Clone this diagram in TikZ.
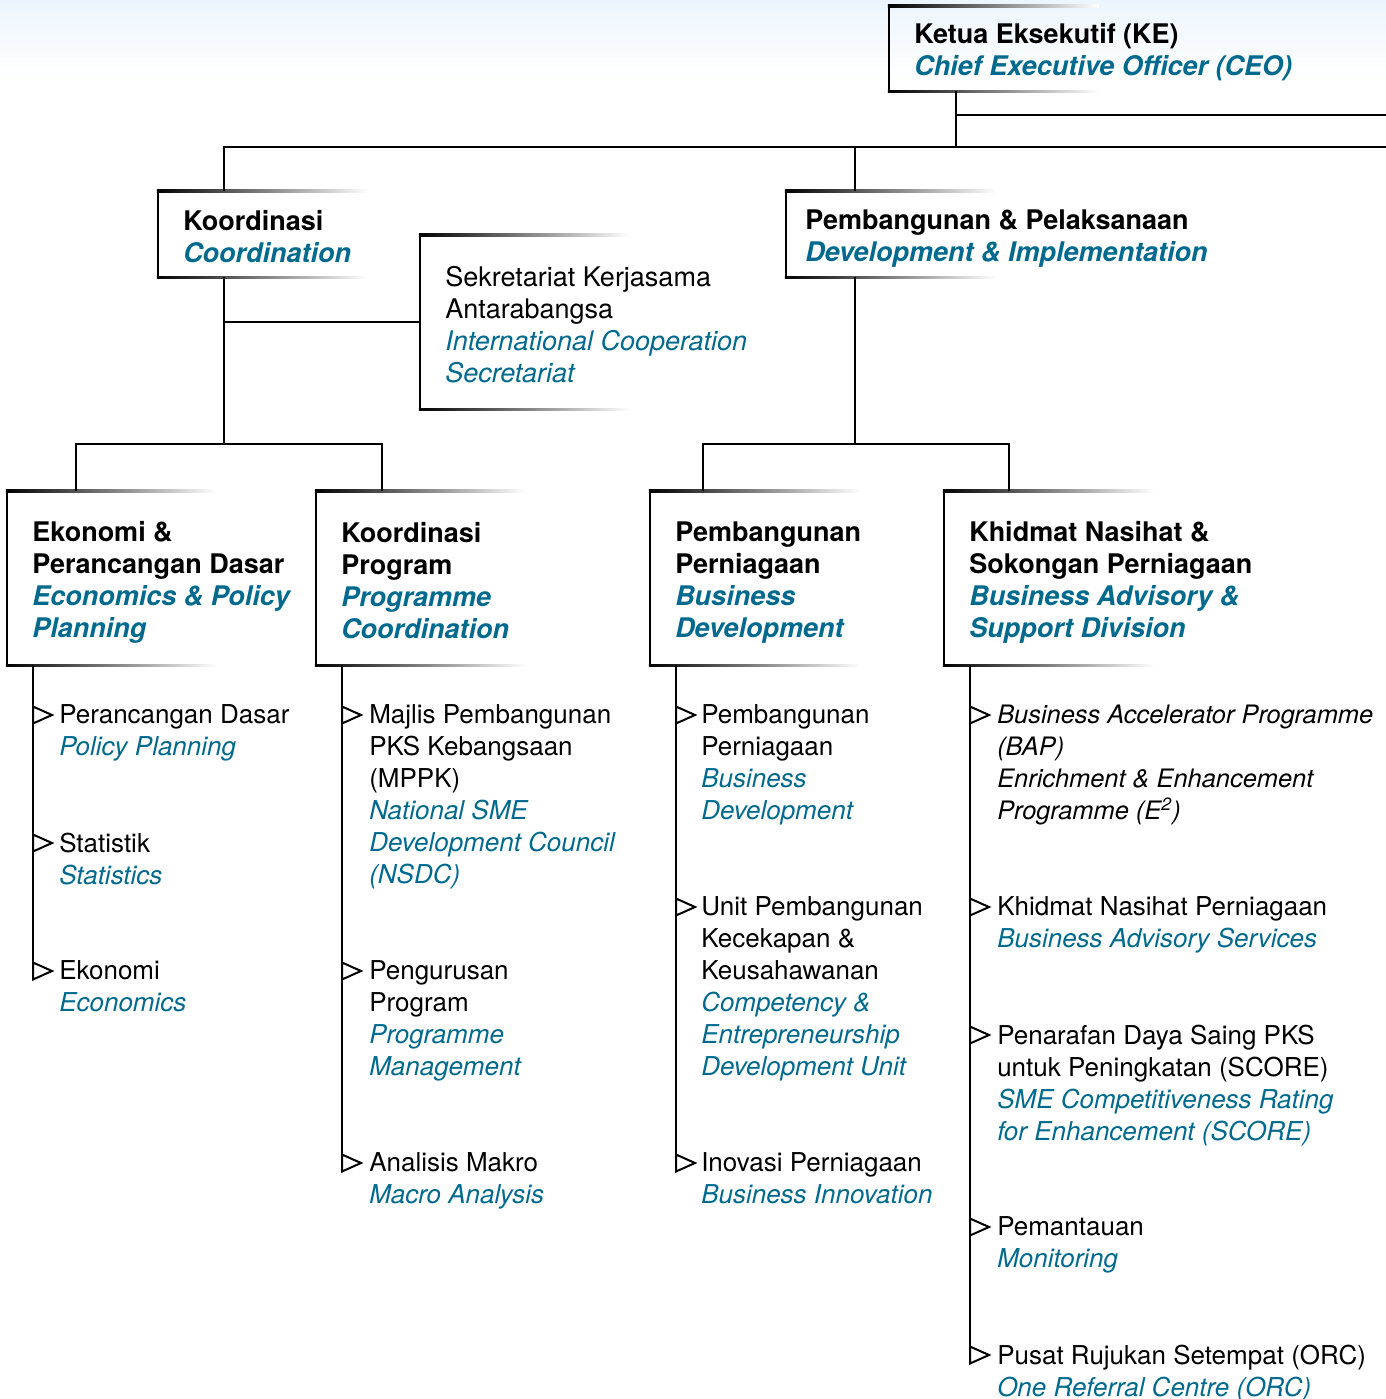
\documentclass[tikz,border=0pt]{standalone}
\usepackage{fontspec}
\setmainfont{TeX Gyre Heros}
\usetikzlibrary{calc}
\usetikzlibrary{positioning}

\definecolor{engblue}{RGB}{0,106,142}
\definecolor{skyblue}{RGB}{236,245,253}

\newcommand{\eng}[1]{\textcolor{engblue}{\itshape #1}}
\newcommand{\heng}[1]{\textcolor{engblue}{\bfseries\itshape #1}}
\newcommand{\linestrut}{\rule[-1.6pt]{0pt}{11pt}}
\newcommand{\topstrut}{\rule{0pt}{14pt}}
\newcommand{\unitedges}[1]{%
  \draw (#1.north west) -- (#1.south west);
  \pic at (#1.north west) {fadeline};
  \pic at (#1.south west) {fadeline};}

\begin{document}
\begin{tikzpicture}[x=0.5pt, y=-0.5pt, line width=1.25pt,
    unit/.style={anchor=west, inner xsep=12pt, inner ysep=0pt, align=left,
      font=\fontsize{13.5}{16}\selectfont, execute at end node=\linestrut},
    headunit/.style={unit, minimum height=42pt},
    bigunit/.style={unit, minimum height=86pt},
    item/.style={anchor=north west, inner sep=0pt, align=left,
      font=\fontsize{13}{16}\selectfont, execute at begin node=\linestrut},
    fadeline/.pic={
      \shade[left color=black, middle color=black, right color=white]
        (-1.25,-1.25) rectangle (210,1.25);
    },
    itemarrow/.pic={
      \draw[line width=1pt, line join=miter, fill=white] (0,-8.5) -- (19,0) -- (0,8.5) -- cycle;
    }
  ]
  \useasboundingbox (0,0) rectangle (1386,1399);
  \shade[top color=skyblue, bottom color=white] (0,0) rectangle (1386,80);

  % top level
  \node[unit, minimum height=41.5pt] (ceo) at (889,48.5)
    {\topstrut\textbf{Ketua Eksekutif (KE)}\\\heng{Chief Executive Officer (CEO)}};
  \node[headunit] (coord) at (158,234)
    {\topstrut\textbf{Koordinasi}\\\heng{Coordination}};
  \node[headunit, inner xsep=9pt] (devimp) at (786,234)
    {\topstrut\textbf{Pembangunan \& Pelaksanaan}\\\heng{Development \& Implementation}};
  \node[bigunit] (icsec) at (420,322)
    {\topstrut Sekretariat Kerjasama\\Antarabangsa\\\eng{International Cooperation}\\\eng{Secretariat}};

  % divisions
  \node[bigunit] (econ) at (7,578)
    {\topstrut\textbf{Ekonomi \&}\\\textbf{Perancangan Dasar}\\\heng{Economics \& Policy}\\\heng{Planning}};
  \node[bigunit] (progco) at (316,578)
    {\topstrut\textbf{Koordinasi}\\\textbf{Program}\\\heng{Programme}\\\heng{Coordination}};
  \node[bigunit] (busdev) at (650,578)
    {\topstrut\textbf{Pembangunan}\\\textbf{Perniagaan}\\\heng{Business}\\\heng{Development}};
  \node[bigunit] (advisory) at (944,578)
    {\topstrut\textbf{Khidmat Nasihat \&}\\\textbf{Sokongan Perniagaan}\\\heng{Business Advisory \&}\\\heng{Support Division}};

  \unitedges{ceo}
  \unitedges{coord}
  \unitedges{devimp}
  \unitedges{icsec}
  \unitedges{econ}
  \unitedges{progco}
  \unitedges{busdev}
  \unitedges{advisory}

  % tree connectors
  \coordinate (ceo_out) at ($(ceo.south west)+(67,0)$);
  \coordinate (edge1) at (1386,115);
  \coordinate (edge2) at (1386,147);
  \coordinate (coord_in) at ($(coord.north west)+(66,0)$);
  \coordinate (coord_out) at ($(coord.south west)+(66,0)$);
  \coordinate (devimp_in) at ($(devimp.north west)+(69,0)$);
  \coordinate (devimp_out) at ($(devimp.south west)+(69,0)$);
  \coordinate (split1) at (224,444);
  \coordinate (split2) at (855,444);
  \coordinate (econ_in) at ($(econ.north west)+(69,0)$);
  \coordinate (progco_in) at ($(progco.north west)+(66,0)$);
  \coordinate (busdev_in) at ($(busdev.north west)+(53,0)$);
  \coordinate (advisory_in) at ($(advisory.north west)+(65,0)$);

  \draw (ceo_out) -- (ceo_out |- edge2);
  \draw[line width=1pt] (ceo_out |- edge1) -- (edge1);
  \draw (coord_in) |- (edge2);
  \draw (devimp_in) -- (devimp_in |- edge2);
  \draw (coord_out) -- (split1);
  \draw (coord_out |- icsec.west) -- (icsec.west);
  \draw (econ_in) |- (split1) -| (progco_in);
  \draw (devimp_out) -- (split2);
  \draw (busdev_in) |- (split2) -| (advisory_in);

  % economics & policy planning
  \coordinate (e1) at (33,715);
  \coordinate (e2) at (33,843);
  \coordinate (e3) at (33,971);
  \draw (econ.south west -| e1) -- ($(e3)+(0,9)$);
  \pic at (e1) {itemarrow};
  \pic at (e2) {itemarrow};
  \pic at (e3) {itemarrow};
  \node[item] (e1t) at ($(e1)+(25,-11.6)$) {Perancangan Dasar\\\eng{Policy Planning}};
  \node[item] (e2t) at ($(e2)+(25,-11.6)$) {Statistik\\\eng{Statistics}};
  \node[item] (e3t) at ($(e3)+(25,-11.6)$) {Ekonomi\\\eng{Economics}};

  % programme coordination
  \coordinate (p1) at (342,715);
  \coordinate (p2) at (342,971);
  \coordinate (p3) at (342,1163);
  \draw (progco.south west -| p1) -- ($(p3)+(0,9)$);
  \pic at (p1) {itemarrow};
  \pic at (p2) {itemarrow};
  \pic at (p3) {itemarrow};
  \node[item] (p1t) at ($(p1)+(26,-11.6)$)
    {Majlis Pembangunan\\PKS Kebangsaan\\(MPPK)\\\eng{National SME}\\\eng{Development Council}\\\eng{(NSDC)}};
  \node[item] (p2t) at ($(p2)+(26,-11.6)$)
    {Pengurusan\\Program\\\eng{Programme}\\\eng{Management}};
  \node[item] (p3t) at ($(p3)+(26,-11.6)$) {Analisis Makro\\\eng{Macro Analysis}};

  % business development
  \coordinate (b1) at (676,715);
  \coordinate (b2) at (676,907);
  \coordinate (b3) at (676,1163);
  \draw (busdev.south west -| b1) -- ($(b3)+(0,9)$);
  \pic at (b1) {itemarrow};
  \pic at (b2) {itemarrow};
  \pic at (b3) {itemarrow};
  \node[item] (b1t) at ($(b1)+(24,-11.6)$)
    {Pembangunan\\Perniagaan\\\eng{Business}\\\eng{Development}};
  \node[item] (b2t) at ($(b2)+(24,-11.6)$)
    {Unit Pembangunan\\Kecekapan \&\\Keusahawanan\\\eng{Competency \&}\\\eng{Entrepreneurship}\\\eng{Development Unit}};
  \node[item] (b3t) at ($(b3)+(24,-11.6)$) {Inovasi Perniagaan\\\eng{Business Innovation}};

  % business advisory & support
  \coordinate (a1) at (970,715);
  \coordinate (a2) at (970,907);
  \coordinate (a3) at (970,1035);
  \coordinate (a4) at (970,1227);
  \coordinate (a5) at (970,1355);
  \draw (advisory.south west -| a1) -- ($(a5)+(0,9)$);
  \pic at (a1) {itemarrow};
  \pic at (a2) {itemarrow};
  \pic at (a3) {itemarrow};
  \pic at (a4) {itemarrow};
  \pic at (a5) {itemarrow};
  \node[item, font=\fontsize{12.7}{16}\selectfont] (a1t) at ($(a1)+(26,-11.6)$)
    {\textit{Business Accelerator Programme}\\\textit{(BAP)}\\\textit{Enrichment \& Enhancement}\\\textit{Programme (E\textsuperscript{2})}};
  \node[item] (a2t) at ($(a2)+(26,-11.6)$) {Khidmat Nasihat Perniagaan\\\eng{Business Advisory Services}};
  \node[item] (a3t) at ($(a3)+(26,-11.6)$)
    {Penarafan Daya Saing PKS\\untuk Peningkatan (SCORE)\\\eng{SME Competitiveness Rating}\\\eng{for Enhancement (SCORE)}};
  \node[item] (a4t) at ($(a4)+(26,-11.6)$) {Pemantauan\\\eng{Monitoring}};
  \node[item] (a5t) at ($(a5)+(26,-11.6)$) {Pusat Rujukan Setempat (ORC)\\\eng{One Referral Centre (ORC)}};
\end{tikzpicture}
\end{document}
